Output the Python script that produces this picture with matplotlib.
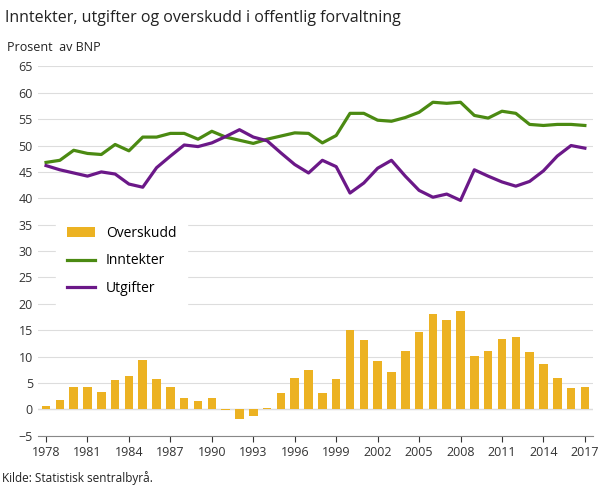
import matplotlib
matplotlib.use("Agg")
import matplotlib.pyplot as plt
import numpy as np

years = list(range(1978, 2018))
overskudd = [0.7,1.8,4.3,4.3,3.3,5.5,6.3,9.4,5.8,4.3,2.2,1.5,2.2,-0.1,-1.9,-1.2,0.2,3.2,6.0,7.4,
             3.2,5.8,15.1,13.2,9.1,7.1,11.1,14.7,18.0,17.0,18.6,10.2,11.0,13.4,13.8,10.8,8.6,6.0,4.0,4.3]
inntekter = [46.8,47.2,49.1,48.5,48.3,50.2,49.0,51.6,51.6,52.3,52.3,51.2,52.7,51.6,51.0,50.4,51.2,51.8,52.4,52.3,
             50.5,51.9,56.1,56.1,54.8,54.6,55.3,56.3,58.2,58.0,58.2,55.7,55.2,56.5,56.1,54.0,53.8,54.0,54.0,53.8]
utgifter = [46.2,45.4,44.8,44.2,45.0,44.6,42.7,42.1,45.8,48.0,50.1,49.8,50.5,51.7,53.0,51.6,50.9,48.6,46.4,44.8,
            47.2,46.0,41.0,42.9,45.7,47.2,44.2,41.5,40.2,40.8,39.6,45.4,44.2,43.1,42.3,43.2,45.2,48.0,50.0,49.5]
xticks = list(range(1978, 2018, 3))

plt.rcParams["font.family"] = "Open Sans"
fig = plt.figure(figsize=(6.09, 4.88), dpi=100)
ax = fig.add_axes([0.062, 0.107, 0.912, 0.757])
b = ax.bar(years, overskudd, width=0.62, color="#ecb222", label="Overskudd", zorder=2)
l1, = ax.plot(years, inntekter, color="#4b8a12", lw=2.3, label="Inntekter", zorder=3)
l2, = ax.plot(years, utgifter, color="#6b1888", lw=2.3, label="Utgifter", zorder=3)
ax.set_ylim(-5, 65)
ax.set_yticks(range(-5, 66, 5))
ax.set_xlim(1977.4, 2017.6)
ax.set_xticks(xticks)
ax.grid(axis="y", color="#dddddd", lw=0.8, zorder=0)
ax.axhline(0, color="#888888", lw=0.8, zorder=1)
for s in ["top", "right", "left"]:
    ax.spines[s].set_visible(False)
ax.spines["bottom"].set_color("#888888")
ax.tick_params(axis="y", length=0, labelsize=9, colors="#333333")
ax.tick_params(axis="x", length=4, labelsize=9, colors="#333333")
ax.legend([b, l1, l2], ["Overskudd", "Inntekter", "Utgifter"], loc="upper left",
          bbox_to_anchor=(0.02, 0.617), frameon=True, fontsize=10,
          fancybox=False, edgecolor="white", framealpha=1, borderpad=0.8, labelspacing=0.9)
fig.text(0.008, 0.955, "Inntekter, utgifter og overskudd i offentlig forvaltning", fontsize=11.5, color="#222222")
fig.text(0.012, 0.895, "Prosent  av BNP", fontsize=9, color="#222222")
fig.text(0.003, 0.012, "Kilde: Statistisk sentralbyrå.", fontsize=8.5, color="#222222")
fig.savefig("out.png", dpi=100)
